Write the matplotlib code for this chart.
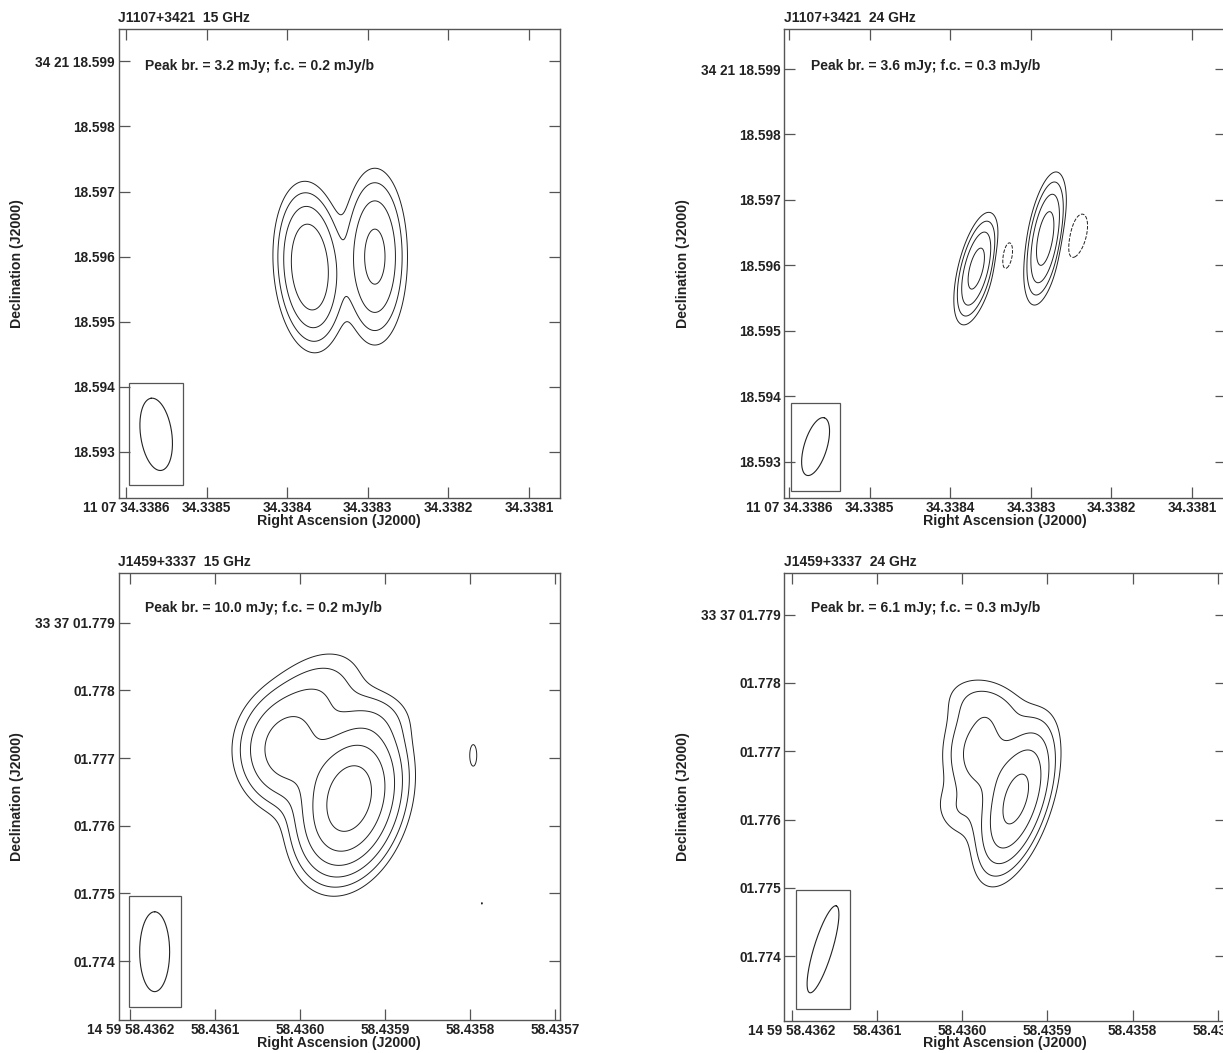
import numpy as np
import matplotlib
matplotlib.use("Agg")
import matplotlib.pyplot as plt
from matplotlib.patches import Rectangle

plt.rcParams["font.family"] = ["Liberation Sans", "DejaVu Sans"]
plt.rcParams["font.weight"] = "bold"
plt.rcParams["axes.labelweight"] = "bold"

# ---- panel description --------------------------------------------------
titles = ["J1107+3421  15 GHz", "J1107+3421  24 GHz",
          "J1459+3337  15 GHz", "J1459+3337  24 GHz"]
peak_br = [3.2, 3.6, 10.0, 6.1]          # mJy
first_contour = [0.2, 0.3, 0.2, 0.3]     # mJy/beam
ra_hm = ["11 07", "11 07", "14 59", "14 59"]
dec_dm = ["34 21", "34 21", "33 37", "33 37"]
dec_deg = [34.356, 34.356, 33.617, 33.617]
ra_ref = [34.3383, 34.3383, 58.4359, 58.4359]     # s, origin of offsets
dec_ref = [18.596, 18.596, 1.777, 1.777]          # arcsec
ra_lim = [(34.3386092, 34.3380614), (34.338606, 34.338058),
          (58.4362139, 58.4356947), (58.4362087, 58.4356904)]
dec_lim = [(18.592292, 18.599497), (18.592444, 18.599612),
           (1.773131, 1.779734), (1.773050, 1.779609)]
ra_ticks = [[34.3386, 34.3385, 34.3384, 34.3383, 34.3382, 34.3381]] * 2 + \
           [[58.4362, 58.4361, 58.4360, 58.4359, 58.4358, 58.4357]] * 2
dec_ticks = [[18.593, 18.594, 18.595, 18.596, 18.597, 18.598, 18.599]] * 2 + \
            [[1.774, 1.775, 1.776, 1.777, 1.778, 1.779]] * 2

# ---- source components (offsets in mas, east/north; FWHM in mas) ---------
comp_dx = [[0.89, -0.11],
           [0.84, -0.22, 0.37, -0.71],
           [0.53, 1.45, 1.09, 0.17, -1.29, -1.42],
           [0.46, 0.98, 0.85, 1.32]]
comp_dy = [[-0.16, 0.0],
           [-0.05, 0.41, 0.15, 0.45],
           [-0.60, 0.09, 0.83, 0.59, 0.04, -2.14],
           [-0.71, -0.05, 0.66, -0.90]]
comp_peak = [[3.2, 2.0],
             [3.3, 3.6, -0.40, -0.45],
             [9.9, 2.2, 0.75, 0.35, 0.24, 0.205],
             [6.0, 1.7, 0.6, 0.45]]
comp_maj = [[1.32, 1.49],
            [0.95, 1.09, 0.66, 0.90],
            [1.24, 1.00, 1.20, 0.80, 0.62, 0.20],
            [1.28, 1.00, 1.00, 0.65]]
comp_min = [[0.56, 0.55],
            [0.30, 0.30, 0.26, 0.36],
            [0.78, 0.85, 0.80, 0.60, 0.20, 0.05],
            [0.52, 0.70, 0.60, 0.50]]
comp_pa = [[4, 0],
           [-14, -10, -10, -15],
           [-15, 0, -45, 90, 0, -10],
           [-18, 0, 70, 30]]

# ---- restoring beams ------------------------------------------------------
beam_maj = [1.12, 0.92, 1.18, 1.33]
beam_min = [0.48, 0.35, 0.44, 0.27]
beam_pa = [8, -17, 0, -17]
beam_dx = [3.25, 3.31, 3.39, 3.29]
beam_dy = [-2.73, -2.77, -2.86, -2.90]

W, H = 1223, 1053
axes_px = [(118.5, 29, 441.5, 469), (784.4, 29, 441.5, 469),
           (118.5, 573, 441.5, 447), (784.4, 573, 441.5, 448)]

GRAY = "#555555"
INK = "#222222"


def model(x, y, k):
    z = np.zeros_like(x)
    for dx, dy, p, a, b, pa in zip(comp_dx[k], comp_dy[k], comp_peak[k],
                                   comp_maj[k], comp_min[k], comp_pa[k]):
        t = np.radians(pa)
        u = (x - dx) * np.sin(t) + (y - dy) * np.cos(t)
        v = (x - dx) * np.cos(t) - (y - dy) * np.sin(t)
        z += p * np.exp(-4 * np.log(2) * (u ** 2 / a ** 2 + v ** 2 / b ** 2))
    return z


fig = plt.figure(figsize=(W / 100, H / 100), dpi=100)

for k in range(4):
    l, t, w, h = axes_px[k]
    ax = fig.add_axes([l / W, 1 - (t + h) / H, w / W, h / H])
    mas_per_s = 1000 * 15 * np.cos(np.radians(dec_deg[k]))

    def to_ra(x):
        return ra_ref[k] + x / mas_per_s

    def to_dec(y):
        return dec_ref[k] + y / 1000.0

    xs = (np.array(ra_lim[k]) - ra_ref[k]) * mas_per_s
    ys = (np.array(dec_lim[k]) - dec_ref[k]) * 1000
    gx, gy = np.meshgrid(np.linspace(xs.min(), xs.max(), 600),
                         np.linspace(ys.min(), ys.max(), 600))
    z = model(gx, gy, k)

    fc = first_contour[k]
    levels = [fc * m for m in (-1, 1, 2, 4, 8, 16, 32, 64) if fc * m < peak_br[k]]
    styles = ["--" if lv < 0 else "-" for lv in levels]
    ax.contour(to_ra(gx), to_dec(gy), z, levels=levels, colors=INK,
               linewidths=0.7, linestyles=styles)

    # restoring beam and its box
    th = np.linspace(0, 2 * np.pi, 200)
    pa = np.radians(beam_pa[k])
    u = beam_maj[k] / 2 * np.cos(th)
    v = beam_min[k] / 2 * np.sin(th)
    bx = beam_dx[k] + u * np.sin(pa) + v * np.cos(pa)
    by = beam_dy[k] + u * np.cos(pa) - v * np.sin(pa)
    ax.plot(to_ra(bx), to_dec(by), color=INK, lw=0.8)
    pad_x, pad_y = 0.16, 0.23
    x0, x1 = bx.min() - pad_x, bx.max() + pad_x
    y0, y1 = by.min() - pad_y, by.max() + pad_y
    ax.add_patch(Rectangle((to_ra(x1), to_dec(y0)), to_ra(x0) - to_ra(x1),
                           to_dec(y1) - to_dec(y0), fill=False,
                           edgecolor=GRAY, lw=0.9))

    ax.set_xlim(ra_lim[k])
    ax.set_ylim(dec_lim[k])

    xt = ra_ticks[k]
    ax.set_xticks(xt)
    ax.set_xticklabels([f"{ra_hm[k]} {v:.4f}" if i == 0 else f"{v:.4f}"
                        for i, v in enumerate(xt)])
    yt = dec_ticks[k]
    ax.set_yticks(yt)
    ax.set_yticklabels([f"{dec_dm[k]} {v:06.3f}" if i == len(yt) - 1 else f"{v:06.3f}"
                        for i, v in enumerate(yt)])

    ax.tick_params(direction="in", length=8, width=0.9, color=GRAY,
                   top=True, right=True, labelsize=9.8, labelcolor=INK, pad=2.5)
    for s in ax.spines.values():
        s.set_color(GRAY)
        s.set_linewidth(1.0)

    ax.set_xlabel("Right Ascension (J2000)", fontsize=10.2, color=INK,
                  fontweight="bold")
    ax.xaxis.set_label_coords(0.5, -22.5 / h)
    ax.xaxis.label.set_va("center")
    ax.set_ylabel("Declination (J2000)", fontsize=10.2, color=INK,
                  fontweight="bold")
    ax.yaxis.set_label_coords(-0.229, 0.5)
    ax.yaxis.label.set_va("center")

    ax.text(0, 1 + 10.5 / h, titles[k], transform=ax.transAxes, fontsize=10,
            color=INK, ha="left", va="center")
    ax.text(0.06, 0.922,
            f"Peak br. = {peak_br[k]:.1f} mJy; f.c. = {fc:.1f} mJy/b",
            transform=ax.transAxes, fontsize=10, color=INK, ha="left", va="center")

fig.savefig("out.png", dpi=100)
